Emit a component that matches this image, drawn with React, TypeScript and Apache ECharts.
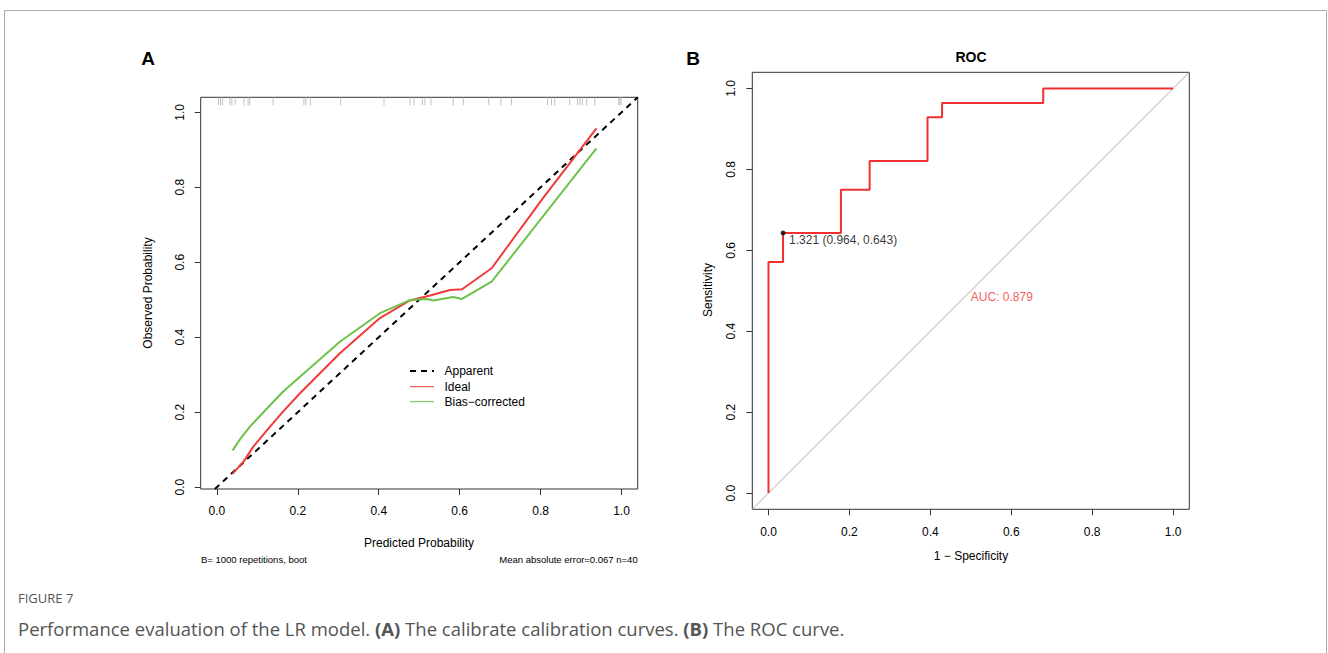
import React, { useEffect, useRef } from "react";
import * as echarts from "echarts";

const tickValues = [0, 0.2, 0.4, 0.6, 0.8, 1.0];

// Calibration (panel A)
const idealX = [0.039, 0.066, 0.09, 0.132, 0.164, 0.206, 0.304, 0.403, 0.477, 0.527, 0.576, 0.606, 0.679, 0.806, 0.938];
const idealY = [0.036, 0.068, 0.108, 0.162, 0.202, 0.251, 0.357, 0.451, 0.498, 0.511, 0.526, 0.528, 0.584, 0.771, 0.957];
const biasX = [0.039, 0.0575, 0.082, 0.132, 0.164, 0.206, 0.304, 0.403, 0.477, 0.518, 0.535, 0.584, 0.606, 0.679, 0.938];
const biasY = [0.098, 0.128, 0.162, 0.219, 0.255, 0.295, 0.388, 0.464, 0.499, 0.502, 0.498, 0.507, 0.502, 0.548, 0.904];
const apparentLine = [[-0.005, -0.005], [1.04, 1.04]];
const rugValues = [
  0.004, 0.009, 0.014, 0.032, 0.037, 0.045, 0.067, 0.077, 0.081, 0.139, 0.215, 0.22, 0.231, 0.306, 0.413, 0.477, 0.487,
  0.508, 0.514, 0.529, 0.584, 0.609, 0.672, 0.702, 0.728, 0.817, 0.827, 0.835, 0.872, 0.891, 0.897, 0.903, 0.914, 0.934,
  0.993, 0.996, 0.999,
];

// ROC (panel B)
const rocFpr = [0, 0.036, 0.179, 0.25, 0.393, 0.429, 0.679, 1];
const rocTpr = [0.571, 0.643, 0.75, 0.821, 0.929, 0.964, 1, 1];
const diagLine = [[-0.04, -0.04], [1.04, 1.04]];
const bestPoint = [0.036, 0.643];
const bestLabel = "1.321 (0.964, 0.643)";
const aucPos = [0.5, 0.5];
const aucLabel = "AUC: 0.879";

const FONT = "Liberation Sans, Arial, sans-serif";

function axisCommon(min: number, max: number) {
  return {
    type: "value",
    min,
    max,
    splitLine: { show: false },
    axisLine: { show: false, onZero: false },
    axisTick: { show: true, inside: false, customValues: tickValues, length: 6, lineStyle: { color: "#333", width: 1 } },
    axisLabel: {
      show: true,
      customValues: tickValues,
      formatter: (v: number) => v.toFixed(1),
      color: "#000",
      fontSize: 12,
      fontFamily: FONT,
    },
  };
}

export default function App() {
  const ref = useRef<HTMLDivElement>(null);
  useEffect(() => {
    if (!ref.current) return;
    const chart = echarts.init(ref.current, null, { renderer: "svg" });

    const idealData = idealX.map((x, i) => [x, idealY[i]]);
    const biasData = biasX.map((x, i) => [x, biasY[i]]);
    const rugData = rugValues.map((v) => [v, 1.04]);

    const rocData: number[][] = [[0, 0]];
    let prevY = 0;
    rocFpr.forEach((x, i) => {
      rocData.push([x, prevY]);
      rocData.push([x, rocTpr[i]]);
      prevY = rocTpr[i];
    });

    const xA: any = axisCommon(-0.04, 1.04);
    xA.gridIndex = 0;
    xA.position = "bottom";
    xA.axisLabel.margin = 16;
    const yA: any = axisCommon(-0.005, 1.04);
    yA.gridIndex = 0;
    yA.position = "left";
    yA.axisLabel.rotate = 90;
    yA.axisLabel.margin = 15;
    const xB: any = axisCommon(-0.04, 1.04);
    xB.gridIndex = 1;
    xB.position = "bottom";
    xB.axisLabel.margin = 17;
    const yB: any = axisCommon(-0.04, 1.04);
    yB.gridIndex = 1;
    yB.position = "left";
    yB.axisLabel.rotate = 90;
    yB.axisLabel.margin = 15;

    const txt = (text: string, x: number, y: number, extra: any = {}) => ({
      type: "text",
      x,
      y,
      style: {
        text,
        fill: "#000",
        font: `12px ${FONT}`,
        textAlign: "center",
        textVerticalAlign: "middle",
        ...extra,
      },
    });

    chart.setOption({
      animation: false,
      backgroundColor: "#fff",
      grid: [
        { left: 200.7, top: 97.3, width: 437, height: 391.7, show: true, borderColor: "#333", borderWidth: 1, backgroundColor: "transparent" },
        { left: 752.3, top: 72.3, width: 437, height: 437, show: true, borderColor: "#333", borderWidth: 1, backgroundColor: "transparent" },
      ],
      xAxis: [xA, xB],
      yAxis: [yA, yB],
      series: [
        {
          type: "line",
          name: "Apparent",
          xAxisIndex: 0,
          yAxisIndex: 0,
          data: apparentLine,
          showSymbol: false,
          lineStyle: { color: "#000", width: 2, type: [6, 5] },
        },
        {
          type: "line",
          name: "Ideal",
          xAxisIndex: 0,
          yAxisIndex: 0,
          data: idealData,
          showSymbol: false,
          lineStyle: { color: "#f03a3a", width: 2 },
        },
        {
          type: "line",
          name: "Bias-corrected",
          xAxisIndex: 0,
          yAxisIndex: 0,
          data: biasData,
          showSymbol: false,
          lineStyle: { color: "#6cc24a", width: 2 },
        },
        {
          type: "scatter",
          name: "rug",
          xAxisIndex: 0,
          yAxisIndex: 0,
          data: rugData,
          symbol: "rect",
          symbolSize: [1, 8],
          symbolOffset: [0, 4],
          itemStyle: { color: "#b0b0b0" },
          silent: true,
        },
        {
          type: "line",
          name: "diag",
          xAxisIndex: 1,
          yAxisIndex: 1,
          data: diagLine,
          showSymbol: false,
          lineStyle: { color: "#aaa", width: 1 },
        },
        {
          type: "line",
          name: "ROC",
          xAxisIndex: 1,
          yAxisIndex: 1,
          data: rocData,
          showSymbol: false,
          lineStyle: { color: "#f03030", width: 2 },
        },
        {
          type: "scatter",
          name: "best",
          xAxisIndex: 1,
          yAxisIndex: 1,
          data: [bestPoint],
          symbolSize: 5,
          itemStyle: { color: "#000" },
          z: 5,
        },
        {
          type: "scatter",
          name: "bestLabel",
          xAxisIndex: 1,
          yAxisIndex: 1,
          data: [bestPoint],
          symbolSize: 0,
          label: {
            show: true,
            position: [6, 1],
            align: "left",
            verticalAlign: "top",
            formatter: bestLabel,
            color: "#000",
            fontSize: 12,
            fontFamily: FONT,
          },
        },
        {
          type: "scatter",
          name: "auc",
          xAxisIndex: 1,
          yAxisIndex: 1,
          data: [aucPos],
          symbolSize: 0,
          label: {
            show: true,
            position: [0, 0],
            align: "left",
            verticalAlign: "top",
            formatter: aucLabel,
            color: "#f03030",
            fontSize: 12,
            fontFamily: FONT,
          },
        },
      ],
      graphic: [
        {
          type: "rect",
          shape: { x: 4.5, y: 10.5, width: 1322, height: 700 },
          style: { fill: "none", stroke: "#aaa", lineWidth: 1 },
          silent: true,
        },
        txt("A", 148, 58, { font: `bold 19px ${FONT}` }),
        txt("B", 693, 58, { font: `bold 19px ${FONT}` }),
        txt("ROC", 971, 57, { font: `bold 14px ${FONT}` }),
        txt("Predicted Probability", 419, 543),
        { ...txt("Observed Probability", 148, 293), rotation: Math.PI / 2 },
        txt("1 − Specificity", 971, 556),
        { ...txt("Sensitivity", 707.5, 290), rotation: Math.PI / 2 },
        txt("B= 1000 repetitions, boot", 201, 559, { font: `9.5px ${FONT}`, textAlign: "left" }),
        txt("Mean absolute error=0.067 n=40", 637.7, 559, { font: `9.5px ${FONT}`, textAlign: "right" }),
        // legend
        { type: "line", shape: { x1: 410, y1: 371, x2: 434, y2: 371 }, style: { stroke: "#000", lineWidth: 2, lineDash: [6, 5] } },
        { type: "line", shape: { x1: 410, y1: 386.7, x2: 434, y2: 386.7 }, style: { stroke: "#f03a3a", lineWidth: 1 } },
        { type: "line", shape: { x1: 410, y1: 401.7, x2: 434, y2: 401.7 }, style: { stroke: "#6cc24a", lineWidth: 1 } },
        txt("Apparent", 444.5, 371, { textAlign: "left" }),
        txt("Ideal", 444.5, 386.7, { textAlign: "left" }),
        txt("Bias−corrected", 444.5, 401.7, { textAlign: "left" }),
        // caption
        txt("FIGURE 7", 18, 598, { font: `13px "Open Sans", sans-serif`, fill: "#555", textAlign: "left" }),
        {
          type: "text",
          x: 18,
          y: 628,
          style: {
            text: "Performance evaluation of the LR model. {b|(A)} The calibrate calibration curves. {b|(B)} The ROC curve.",
            font: `18.5px "Open Sans", sans-serif`,
            fill: "#555",
            textAlign: "left",
            textVerticalAlign: "middle",
            rich: {
              b: { fontWeight: "bold", fontSize: 18.5, fontFamily: '"Open Sans", sans-serif', fill: "#555" },
            },
          },
        },
      ],
    });
    return () => chart.dispose();
  }, []);
  return <div ref={ref} style={{ position: "fixed", left: 0, top: 0, width: 1328, height: 653 }} />;
}
